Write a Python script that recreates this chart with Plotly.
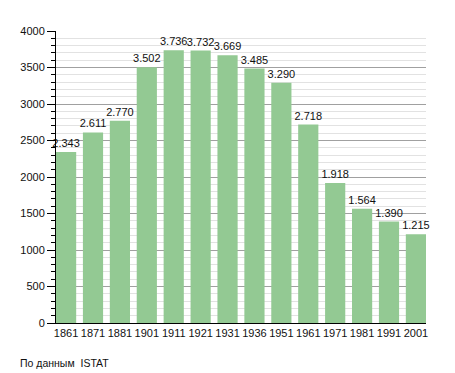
import plotly.graph_objects as go

years = ["1861", "1871", "1881", "1901", "1911", "1921", "1931", "1936",
         "1951", "1961", "1971", "1981", "1991", "2001"]
population = [2343, 2611, 2770, 3502, 3736, 3732, 3669, 3485,
              3290, 2718, 1918, 1564, 1390, 1215]
y_ticks = [0, 500, 1000, 1500, 2000, 2500, 3000, 3500, 4000]
source_note = "По данным  ISTAT"

FONT = "Liberation Sans, Arial, sans-serif"
GAP = 0.25
half = (1 - GAP) / 2

fig = go.Figure()
fig.add_trace(go.Bar(
    x=years, y=population,
    marker=dict(color="#93c993", line=dict(width=0)),
    texttemplate="%{y:,}",
    textposition="outside",
    textfont=dict(family=FONT, size=11, color="#111"),
    constraintext="none",
    cliponaxis=False,
    hoverinfo="x+y",
))

# page body adds an 8px margin, so the figure is drawn 8px smaller
fig.update_layout(
    width=447, height=365,
    margin=dict(l=42, r=29, t=23, b=50),
    paper_bgcolor="white", plot_bgcolor="white",
    separators=",.",
    bargap=GAP,
    showlegend=False,
    font=dict(family=FONT, size=11, color="#111"),
    xaxis=dict(
        type="category",
        range=[-half, len(years) - 1 + half],
        showline=True, linecolor="black", linewidth=1,
        ticks="", showgrid=False, tickangle=0,
        tickfont=dict(family=FONT, size=11, color="#111"),
    ),
    yaxis=dict(
        range=[0, 4000],
        tickvals=y_ticks, tickformat="d",
        showline=True, linecolor="black", linewidth=1,
        ticks="outside", ticklen=8, tickcolor="black", tickwidth=1,
        showgrid=True, gridcolor="#a0a0a0", gridwidth=1,
        zeroline=False,
        minor=dict(dtick=100, showgrid=True, gridcolor="#e2e2e2",
                   ticks="outside", ticklen=4, tickcolor="black"),
        tickfont=dict(family=FONT, size=11, color="#111"),
    ),
    annotations=[dict(
        text=source_note, xref="paper", yref="paper",
        x=-0.102, y=-0.11, xanchor="left", yanchor="top",
        showarrow=False, font=dict(family=FONT, size=10.5, color="#111"),
    )],
)

fig.write_html("out.html")
